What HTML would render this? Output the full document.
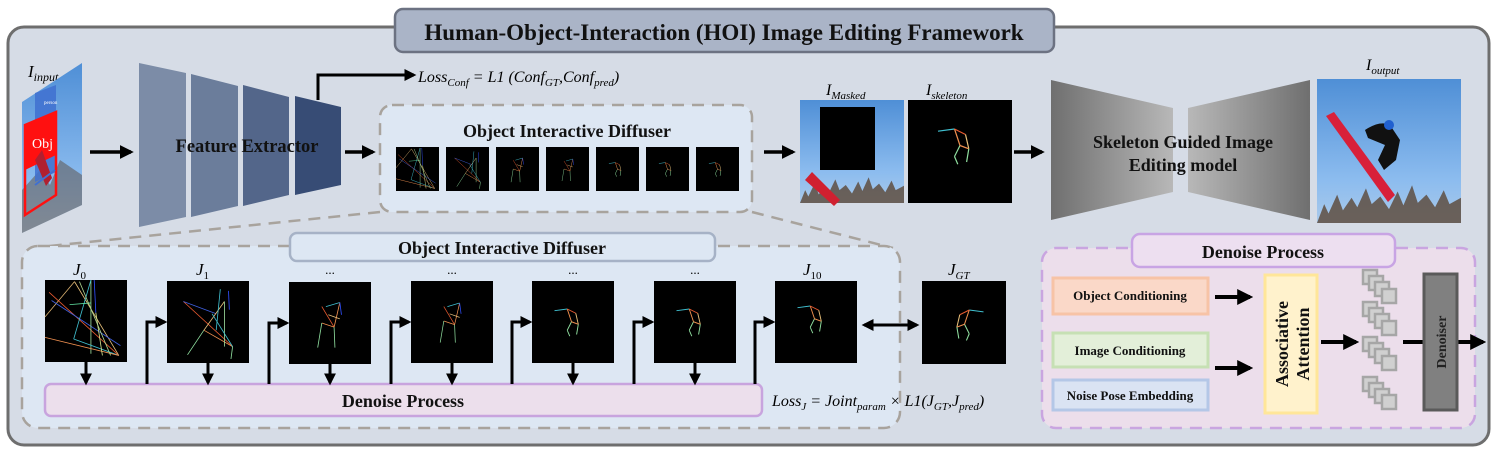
<!DOCTYPE html>
<html><head><meta charset="utf-8">
<style>
html,body{margin:0;padding:0;background:#fff;}
svg{display:block;}
text{font-family:"Liberation Serif",serif;}
.b{font-weight:bold;}
.m{font-style:italic;}
</style></head>
<body>
<svg width="1498" height="454" viewBox="0 0 1498 454" xmlns="http://www.w3.org/2000/svg">
<defs>
<marker id="ah" markerWidth="4" markerHeight="4" refX="3.2" refY="2" orient="auto" markerUnits="strokeWidth">
<path d="M0,0 L4,2 L0,4 z" fill="#000"/></marker>
<marker id="ahs" markerWidth="4" markerHeight="4" refX="0.8" refY="2" orient="auto" markerUnits="strokeWidth">
<path d="M4,0 L0,2 L4,4 z" fill="#000"/></marker>
<linearGradient id="sky" x1="0" y1="0" x2="0" y2="1"><stop offset="0" stop-color="#4f8fd6"/><stop offset="0.7" stop-color="#8cbcef"/><stop offset="1" stop-color="#a9c9ea"/></linearGradient>
<linearGradient id="gl" x1="0" y1="0" x2="1" y2="0"><stop offset="0" stop-color="#6f6f6f"/><stop offset="1" stop-color="#b8b8b8"/></linearGradient>
<linearGradient id="gr" x1="0" y1="0" x2="1" y2="0"><stop offset="0" stop-color="#b8b8b8"/><stop offset="1" stop-color="#6f6f6f"/></linearGradient>
<g id="trees">
<path d="M0,100 L5,70 L8,85 L14,55 L18,80 L24,60 L28,75 L34,45 L38,70 L44,58 L50,78 L56,50 L60,72 L66,40 L70,68 L76,55 L82,75 L88,48 L92,70 L100,60 L100,100 Z" fill="#5a4636" opacity="0.8"/>
</g>
<g id="sk0" fill="none" stroke-width="1">
<line x1="36" y1="2" x2="90" y2="92" stroke="#e8c07a"/><line x1="36" y1="2" x2="0" y2="45" stroke="#d9b070"/>
<line x1="5" y1="15" x2="90" y2="92" stroke="#e85a30"/><line x1="8" y1="25" x2="92" y2="80" stroke="#4060e0"/>
<line x1="56" y1="0" x2="56" y2="90" stroke="#a0e0a0"/><line x1="56" y1="0" x2="35" y2="72" stroke="#40c0d0"/>
<line x1="35" y1="72" x2="90" y2="92" stroke="#40c0d0"/><line x1="0" y1="70" x2="90" y2="92" stroke="#f09050"/>
<line x1="30" y1="30" x2="56" y2="28" stroke="#60e0a0"/><line x1="60" y1="0" x2="62" y2="40" stroke="#3050ff"/>
<line x1="62" y1="40" x2="70" y2="92" stroke="#d8e890"/><line x1="42" y1="2" x2="80" y2="92" stroke="#b0d890"/>
</g>
<g id="sk1" fill="none" stroke-width="1">
<line x1="20" y1="25" x2="80" y2="80" stroke="#e85a30"/><line x1="20" y1="25" x2="60" y2="40" stroke="#4060e0"/>
<line x1="45" y1="60" x2="70" y2="25" stroke="#e8c07a"/><line x1="45" y1="60" x2="25" y2="90" stroke="#90e0a0"/>
<line x1="45" y1="60" x2="80" y2="80" stroke="#f09050"/><line x1="70" y1="25" x2="70" y2="80" stroke="#a0e0a0"/>
<line x1="55" y1="40" x2="80" y2="80" stroke="#40c0d0"/><line x1="65" y1="10" x2="60" y2="60" stroke="#40c0d0"/>
<line x1="80" y1="80" x2="78" y2="95" stroke="#90e0a0"/><line x1="75" y1="12" x2="76" y2="35" stroke="#3050ff"/>
</g>
<g id="sk2" fill="none" stroke-width="1">
<line x1="40" y1="30" x2="55" y2="55" stroke="#e85a30"/><line x1="45" y1="30" x2="62" y2="25" stroke="#40c0d0"/>
<line x1="55" y1="55" x2="62" y2="25" stroke="#f09050"/><line x1="40" y1="50" x2="55" y2="55" stroke="#f09050"/>
<line x1="40" y1="50" x2="35" y2="80" stroke="#90e0a0"/><line x1="55" y1="55" x2="56" y2="80" stroke="#90e0a0"/>
<line x1="62" y1="25" x2="64" y2="40" stroke="#3050ff"/><line x1="48" y1="40" x2="62" y2="45" stroke="#e8c07a"/>
</g>
<g id="sk3" fill="none" stroke-width="1.1">
<line x1="30" y1="42" x2="45" y2="40" stroke="#40c0d0"/><line x1="45" y1="40" x2="50" y2="55" stroke="#f09050"/>
<line x1="45" y1="40" x2="55" y2="45" stroke="#e85a30"/><line x1="55" y1="45" x2="58" y2="58" stroke="#e8c07a"/>
<line x1="50" y1="55" x2="45" y2="65" stroke="#90e0a0"/><line x1="45" y1="65" x2="48" y2="72" stroke="#90e0a0"/>
<line x1="50" y1="55" x2="58" y2="58" stroke="#f09050"/><line x1="58" y1="58" x2="56" y2="70" stroke="#90e0a0"/>
</g>
</defs>

<rect x="8" y="27" width="1481" height="418" rx="16" fill="#d6dce6" stroke="#6e6e6e" stroke-width="3"/>
<rect x="395" y="9" width="659" height="43" rx="8" fill="#aab4c7" stroke="#6c7282" stroke-width="2.5"/>
<text x="724" y="40" text-anchor="middle" class="b" font-size="23" fill="#111">Human-Object-Interaction (HOI) Image Editing Framework</text>

<text x="28" y="77" class="m" font-size="17">I<tspan font-size="12" dy="4">input</tspan></text>
<polygon points="22,102 82,63 82,205 22,233" fill="url(#sky)"/>
<polygon points="22,190 40,170 50,185 60,160 82,175 82,205 22,233" fill="#5a4a3e" opacity="0.5"/>
<polygon points="35,93 56,85 56,172 35,182" fill="#4070d0" opacity="0.85"/>
<text x="44" y="104" font-size="5" fill="#fff">person</text>
<polygon points="25,125 56,112 56,155 25,170" fill="#ff1010"/>
<polygon points="25,125 56,112 56,195 25,215" fill="none" stroke="#ff1010" stroke-width="2.5"/>
<text x="32" y="148" font-size="14" fill="#fff">Obj</text>
<polygon points="35,160 42,150 52,178 46,186" fill="#b02030"/>
<path d="M35,185 L55,170" stroke="#4070d0" stroke-width="2"/>

<line x1="90" y1="152" x2="131" y2="152" stroke="#000" stroke-width="3.5" marker-end="url(#ah)"/>

<polygon points="139,63 186,73 186,217 139,227" fill="#7c8ca7"/>
<polygon points="191,74 238,86 238,206 191,217" fill="#6b7d9b"/>
<polygon points="243,85 289,97 289,195 243,206" fill="#53668a"/>
<polygon points="295,96 341,107 341,185 295,195" fill="#374c75"/>
<text x="247" y="152" text-anchor="middle" class="b" font-size="18.5" fill="#111">Feature Extractor</text>
<polyline points="318,100 318,75 414,75" fill="none" stroke="#000" stroke-width="3" marker-end="url(#ah)"/>
<text x="418" y="82" class="m" font-size="16">Loss<tspan font-size="11" dy="4">Conf</tspan><tspan dy="-4"> = L1 (Conf</tspan><tspan font-size="11" dy="4">GT</tspan><tspan dy="-4">,Conf</tspan><tspan font-size="11" dy="4">pred</tspan><tspan dy="-4">)</tspan></text>

<line x1="345" y1="152" x2="373" y2="152" stroke="#000" stroke-width="3.5" marker-end="url(#ah)"/>

<line x1="380" y1="212" x2="30" y2="248" stroke="#a8a39d" stroke-width="2.5" stroke-dasharray="12,8"/>
<line x1="752" y1="212" x2="893" y2="248" stroke="#a8a39d" stroke-width="2.5" stroke-dasharray="12,8"/>

<rect x="380" y="105" width="372" height="107" rx="12" fill="#dde7f3" stroke="#a8a39d" stroke-width="2.5" stroke-dasharray="12,8"/>
<text x="567" y="137" text-anchor="middle" class="b" font-size="18" fill="#111">Object Interactive Diffuser</text>
<g>
<rect x="396" y="147" width="43" height="44" fill="#000"/><use href="#sk0" transform="translate(396,148) scale(0.43,0.44)"/>
<rect x="446" y="147" width="43" height="44" fill="#000"/><use href="#sk1" transform="translate(446,147) scale(0.43,0.44)"/>
<rect x="496" y="147" width="43" height="44" fill="#000"/><use href="#sk2" transform="translate(496,147) scale(0.43,0.44)"/>
<rect x="546" y="147" width="43" height="44" fill="#000"/><use href="#sk2" transform="translate(548,149) scale(0.4,0.4)"/>
<rect x="596" y="147" width="43" height="44" fill="#000"/><use href="#sk3" transform="translate(596,145) scale(0.43,0.44)"/>
<rect x="646" y="147" width="43" height="44" fill="#000"/><use href="#sk3" transform="translate(646,145) scale(0.43,0.44)"/>
<rect x="696" y="147" width="43" height="44" fill="#000"/><use href="#sk3" transform="translate(696,145) scale(0.43,0.44)"/>
</g>

<line x1="764" y1="152" x2="793" y2="152" stroke="#000" stroke-width="3.5" marker-end="url(#ah)"/>

<text x="826" y="95" class="m" font-size="16">I<tspan font-size="11" dy="4">Masked</tspan></text>
<rect x="800" y="100" width="104" height="103" fill="url(#sky)"/>
<use href="#trees" transform="translate(800,160) scale(1.04,0.43)"/>
<polygon points="805,180 812,172 840,200 834,206" fill="#d02030"/>
<rect x="820" y="107" width="55" height="63" fill="#000"/>
<text x="926" y="95" class="m" font-size="16">I<tspan font-size="11" dy="4">skeleton</tspan></text>
<rect x="908" y="100" width="104" height="103" fill="#000"/>
<use href="#sk3" transform="translate(905,85) scale(1.1,1.1)"/>

<line x1="1014" y1="152" x2="1042" y2="152" stroke="#000" stroke-width="3.5" marker-end="url(#ah)"/>

<polygon points="1051,80 1173,108 1173,192 1051,220" fill="url(#gl)"/>
<polygon points="1188,108 1310,80 1310,220 1188,192" fill="url(#gr)"/>
<text x="1183" y="148" text-anchor="middle" class="b" font-size="18" fill="#111">Skeleton Guided Image</text>
<text x="1183" y="171" text-anchor="middle" class="b" font-size="18" fill="#111">Editing model</text>

<text x="1366" y="70" class="m" font-size="16">I<tspan font-size="11" dy="4">output</tspan></text>
<rect x="1317" y="79" width="144" height="144" fill="url(#sky)"/>
<use href="#trees" transform="translate(1317,160) scale(1.44,0.63)"/>
<polygon points="1326,116 1334,112 1395,195 1388,202" fill="#d8203a"/>
<path d="M1365,130 Q1380,120 1390,125 L1400,140 L1396,160 L1384,170 L1378,160 L1385,145 L1368,138 Z" fill="#111"/>
<circle cx="1389" cy="125" r="5" fill="#2060d0"/>

<rect x="22" y="246" width="878" height="182" rx="16" fill="#dde7f3" stroke="#a8a39d" stroke-width="2.5" stroke-dasharray="12,8"/>
<rect x="290" y="233" width="425" height="28" rx="7" fill="#dde7f3" stroke="#a6b2c6" stroke-width="2.5"/>
<text x="502" y="254" text-anchor="middle" class="b" font-size="18" fill="#111">Object Interactive Diffuser</text>
<rect x="45" y="384" width="717" height="32" rx="6" fill="#ecdfec" stroke="#c8a4de" stroke-width="2.5"/>
<text x="403" y="407" text-anchor="middle" class="b" font-size="18" fill="#111">Denoise Process</text>

<g font-size="17" class="m">
<text x="73" y="275">J<tspan font-size="11" dy="4" font-style="normal">0</tspan></text>
<text x="196" y="275">J<tspan font-size="11" dy="4" font-style="normal">1</tspan></text>
<text x="803" y="275">J<tspan font-size="11" dy="4" font-style="normal">10</tspan></text>
<text x="948" y="275">J<tspan font-size="11" dy="4">GT</tspan></text>
</g>
<g font-size="13" text-anchor="middle"><text x="330" y="274">...</text><text x="452" y="274">...</text><text x="573" y="274">...</text><text x="695" y="274">...</text></g>

<rect x="45" y="280" width="82" height="82" fill="#000"/><use href="#sk0" transform="translate(45,280) scale(0.82,0.82)"/>
<rect x="167" y="281" width="82" height="82" fill="#000"/><use href="#sk1" transform="translate(167,281) scale(0.82,0.82)"/>
<rect x="289" y="282" width="82" height="82" fill="#000"/><use href="#sk2" transform="translate(289,282) scale(0.82,0.82)"/>
<rect x="411" y="281" width="82" height="82" fill="#000"/><use href="#sk2" transform="translate(415,285) scale(0.72,0.72)"/>
<rect x="532" y="281" width="82" height="82" fill="#000"/><use href="#sk3" transform="translate(529,275) scale(0.85,0.85)"/>
<rect x="654" y="281" width="82" height="82" fill="#000"/><use href="#sk3" transform="translate(651,275) scale(0.85,0.85)"/>
<rect x="775" y="281" width="82" height="82" fill="#000"/><use href="#sk3" transform="translate(772,272) scale(0.85,0.85)"/>
<rect x="922" y="281" width="84" height="83" fill="#000"/><use href="#sk3" transform="translate(1012,272) scale(-0.95,0.95)"/>

<g stroke="#000" stroke-width="3" fill="none">
<line x1="86" y1="362" x2="86" y2="383" marker-end="url(#ah)"/>
<line x1="208" y1="363" x2="208" y2="383" marker-end="url(#ah)"/>
<line x1="330" y1="364" x2="330" y2="383" marker-end="url(#ah)"/>
<line x1="452" y1="363" x2="452" y2="383" marker-end="url(#ah)"/>
<line x1="573" y1="363" x2="573" y2="383" marker-end="url(#ah)"/>
<line x1="695" y1="363" x2="695" y2="383" marker-end="url(#ah)"/>
<polyline points="147,384 147,322 165,322" marker-end="url(#ah)"/>
<polyline points="269,384 269,323 287,323" marker-end="url(#ah)"/>
<polyline points="391,384 391,322 409,322" marker-end="url(#ah)"/>
<polyline points="512,384 512,322 530,322" marker-end="url(#ah)"/>
<polyline points="634,384 634,322 652,322" marker-end="url(#ah)"/>
<polyline points="755,384 755,322 773,322" marker-end="url(#ah)"/>
<line x1="864" y1="325" x2="917" y2="325" marker-end="url(#ah)" marker-start="url(#ahs)"/>
</g>
<text x="772" y="406" class="m" font-size="16">Loss<tspan font-size="11" dy="4">J</tspan><tspan dy="-4"> = Joint</tspan><tspan font-size="11" dy="4">param</tspan><tspan dy="-4"> × L1(J</tspan><tspan font-size="11" dy="4">GT</tspan><tspan dy="-4">,J</tspan><tspan font-size="11" dy="4">pred</tspan><tspan dy="-4">)</tspan></text>

<rect x="1042" y="248" width="433" height="180" rx="14" fill="#ecdeeb" stroke="#c9a5e0" stroke-width="2.5" stroke-dasharray="12,8"/>
<rect x="1132" y="234" width="263" height="33" rx="8" fill="#eddff0" stroke="#c8a4e4" stroke-width="2.5"/>
<text x="1263" y="258" text-anchor="middle" class="b" font-size="18" fill="#111">Denoise Process</text>
<rect x="1053" y="278" width="155" height="36" fill="#fad8c8" stroke="#f7c3a6" stroke-width="3"/>
<text x="1130" y="300" text-anchor="middle" class="b" font-size="13" fill="#111">Object Conditioning</text>
<rect x="1053" y="333" width="155" height="34" fill="#e3efd9" stroke="#c6e0b4" stroke-width="3"/>
<text x="1130" y="355" text-anchor="middle" class="b" font-size="13" fill="#111">Image Conditioning</text>
<rect x="1053" y="380" width="155" height="30" fill="#dae3f3" stroke="#b4c7e7" stroke-width="3"/>
<text x="1130" y="400" text-anchor="middle" class="b" font-size="13" fill="#111">Noise Pose Embedding</text>
<g stroke="#000" stroke-width="4" fill="none">
<line x1="1215" y1="297" x2="1250" y2="297" marker-end="url(#ah)"/>
<line x1="1215" y1="368" x2="1250" y2="368" marker-end="url(#ah)"/>
<line x1="1321" y1="342" x2="1356" y2="342" marker-end="url(#ah)"/>
<line x1="1403" y1="342" x2="1424" y2="342"/>
<line x1="1457" y1="342" x2="1483" y2="342" marker-end="url(#ah)"/>
</g>
<rect x="1265" y="275" width="52" height="138" fill="#fff2cc" stroke="#ffe699" stroke-width="3"/>
<text transform="translate(1288,344) rotate(-90)" text-anchor="middle" class="b" font-size="18" fill="#111">Associative</text>
<text transform="translate(1309,344) rotate(-90)" text-anchor="middle" class="b" font-size="18" fill="#111">Attention</text>
<g fill="#d0d0d0" stroke="#a6a6a6" stroke-width="2.5">
<rect x="1363" y="270" width="14" height="14"/><rect x="1369" y="276" width="14" height="14"/><rect x="1375" y="282" width="14" height="14"/><rect x="1382" y="289" width="14" height="14"/>
<rect x="1363" y="302" width="14" height="14"/><rect x="1369" y="308" width="14" height="14"/><rect x="1375" y="314" width="14" height="14"/><rect x="1382" y="321" width="14" height="14"/>
<rect x="1363" y="337" width="14" height="14"/><rect x="1369" y="343" width="14" height="14"/><rect x="1375" y="349" width="14" height="14"/><rect x="1382" y="356" width="14" height="14"/>
<rect x="1363" y="377" width="14" height="14"/><rect x="1369" y="383" width="14" height="14"/><rect x="1375" y="389" width="14" height="14"/><rect x="1382" y="395" width="14" height="14"/>
</g>
<rect x="1424" y="274" width="33" height="136" fill="#808080" stroke="#5a5a5a" stroke-width="3"/>
<text transform="translate(1446,342) rotate(-90)" text-anchor="middle" class="b" font-size="14" fill="#222">Denoiser</text>
</svg>
</body></html>
